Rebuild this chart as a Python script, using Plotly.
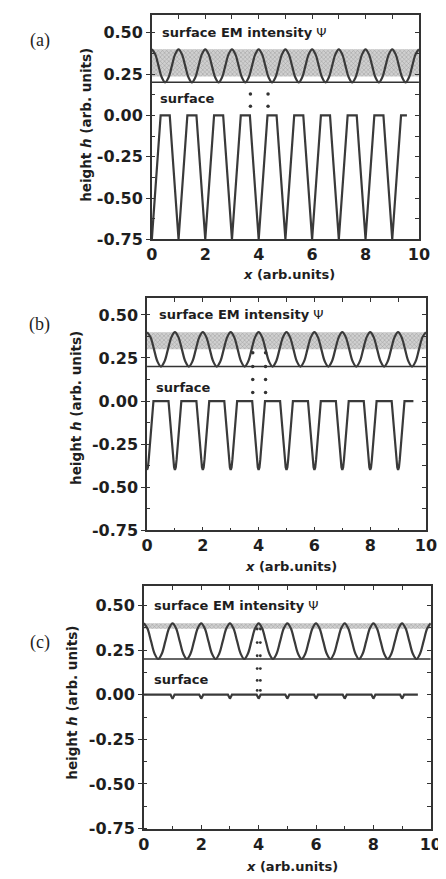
import numpy as np
import plotly.graph_objects as go

W, H = 446, 879

# ---------------- data ----------------
# sampling grid for the surface EM intensity curve
x_psi = np.round(np.arange(0, 10.0001, 0.125), 3)
psi = [
    0.400, 0.371, 0.300, 0.229, 0.200, 0.229, 0.300, 0.371,
    0.400, 0.371, 0.300, 0.229, 0.200, 0.229, 0.300, 0.371,
    0.400, 0.371, 0.300, 0.229, 0.200, 0.229, 0.300, 0.371,
    0.400, 0.371, 0.300, 0.229, 0.200, 0.229, 0.300, 0.371,
    0.400, 0.371, 0.300, 0.229, 0.200, 0.229, 0.300, 0.371,
    0.400, 0.371, 0.300, 0.229, 0.200, 0.229, 0.300, 0.371,
    0.400, 0.371, 0.300, 0.229, 0.200, 0.229, 0.300, 0.371,
    0.400, 0.371, 0.300, 0.229, 0.200, 0.229, 0.300, 0.371,
    0.400, 0.371, 0.300, 0.229, 0.200, 0.229, 0.300, 0.371,
    0.400, 0.371, 0.300, 0.229, 0.200, 0.229, 0.300, 0.371,
    0.400,
]
psi_floor = 0.20                 # horizontal reference line
band_top = 0.40                  # top of shaded band
band_low = [0.235, 0.30, 0.37]   # bottom of shaded band, panels a, b, c
x_span = [0, 10]

# surface profile (a)
surf_a_x = [
    0.00, 0.33, 0.67,
    1.00, 1.33, 1.67,
    2.00, 2.33, 2.67,
    3.00, 3.33, 3.67,
    4.00, 4.33, 4.67,
    5.00, 5.33, 5.67,
    6.00, 6.33, 6.67,
    7.00, 7.33, 7.67,
    8.00, 8.33, 8.67,
    9.00, 9.33, 9.55,
]
surf_a_h = [
    -0.75, 0.00, 0.00,
    -0.75, 0.00, 0.00,
    -0.75, 0.00, 0.00,
    -0.75, 0.00, 0.00,
    -0.75, 0.00, 0.00,
    -0.75, 0.00, 0.00,
    -0.75, 0.00, 0.00,
    -0.75, 0.00, 0.00,
    -0.75, 0.00, 0.00,
    -0.75, 0.00, 0.00,
]

# surface profile (b)
surf_b_x = [
    0.00, 0.03, 0.06, 0.10, 0.15, 0.20, 0.23,
    0.77, 0.80, 0.85, 0.90, 0.94, 0.97, 1.00, 1.03, 1.06, 1.10, 1.15, 1.20, 1.23,
    1.77, 1.80, 1.85, 1.90, 1.94, 1.97, 2.00, 2.03, 2.06, 2.10, 2.15, 2.20, 2.23,
    2.77, 2.80, 2.85, 2.90, 2.94, 2.97, 3.00, 3.03, 3.06, 3.10, 3.15, 3.20, 3.23,
    3.77, 3.80, 3.85, 3.90, 3.94, 3.97, 4.00, 4.03, 4.06, 4.10, 4.15, 4.20, 4.23,
    4.77, 4.80, 4.85, 4.90, 4.94, 4.97, 5.00, 5.03, 5.06, 5.10, 5.15, 5.20, 5.23,
    5.77, 5.80, 5.85, 5.90, 5.94, 5.97, 6.00, 6.03, 6.06, 6.10, 6.15, 6.20, 6.23,
    6.77, 6.80, 6.85, 6.90, 6.94, 6.97, 7.00, 7.03, 7.06, 7.10, 7.15, 7.20, 7.23,
    7.77, 7.80, 7.85, 7.90, 7.94, 7.97, 8.00, 8.03, 8.06, 8.10, 8.15, 8.20, 8.23,
    8.77, 8.80, 8.85, 8.90, 8.94, 8.97, 9.00, 9.03, 9.06, 9.10, 9.15, 9.20, 9.23,
    9.55,
]
surf_b_h = [
    -0.40, -0.385, -0.34, -0.26, -0.16, -0.06, 0.00,
    0.00, -0.06, -0.16, -0.26, -0.34, -0.385, -0.40, -0.385, -0.34, -0.26, -0.16, -0.06, 0.00,
    0.00, -0.06, -0.16, -0.26, -0.34, -0.385, -0.40, -0.385, -0.34, -0.26, -0.16, -0.06, 0.00,
    0.00, -0.06, -0.16, -0.26, -0.34, -0.385, -0.40, -0.385, -0.34, -0.26, -0.16, -0.06, 0.00,
    0.00, -0.06, -0.16, -0.26, -0.34, -0.385, -0.40, -0.385, -0.34, -0.26, -0.16, -0.06, 0.00,
    0.00, -0.06, -0.16, -0.26, -0.34, -0.385, -0.40, -0.385, -0.34, -0.26, -0.16, -0.06, 0.00,
    0.00, -0.06, -0.16, -0.26, -0.34, -0.385, -0.40, -0.385, -0.34, -0.26, -0.16, -0.06, 0.00,
    0.00, -0.06, -0.16, -0.26, -0.34, -0.385, -0.40, -0.385, -0.34, -0.26, -0.16, -0.06, 0.00,
    0.00, -0.06, -0.16, -0.26, -0.34, -0.385, -0.40, -0.385, -0.34, -0.26, -0.16, -0.06, 0.00,
    0.00, -0.06, -0.16, -0.26, -0.34, -0.385, -0.40, -0.385, -0.34, -0.26, -0.16, -0.06, 0.00,
    0.00,
]

# surface profile (c)
surf_c_x = [
    0.00,
    0.93, 0.965, 1.00, 1.035, 1.07,
    1.93, 1.965, 2.00, 2.035, 2.07,
    2.93, 2.965, 3.00, 3.035, 3.07,
    3.93, 3.965, 4.00, 4.035, 4.07,
    4.93, 4.965, 5.00, 5.035, 5.07,
    5.93, 5.965, 6.00, 6.035, 6.07,
    6.93, 6.965, 7.00, 7.035, 7.07,
    7.93, 7.965, 8.00, 8.035, 8.07,
    8.93, 8.965, 9.00, 9.035, 9.07,
    9.55,
]
surf_c_h = [
    0.00,
    0.00, -0.012, -0.022, -0.012, 0.00,
    0.00, -0.012, -0.022, -0.012, 0.00,
    0.00, -0.012, -0.022, -0.012, 0.00,
    0.00, -0.012, -0.022, -0.012, 0.00,
    0.00, -0.012, -0.022, -0.012, 0.00,
    0.00, -0.012, -0.022, -0.012, 0.00,
    0.00, -0.012, -0.022, -0.012, 0.00,
    0.00, -0.012, -0.022, -0.012, 0.00,
    0.00, -0.012, -0.022, -0.012, 0.00,
    0.00,
]

# dotted guide marks (pairs of columns)
dots_a_x = [3.69, 3.69, 4.35, 4.35]
dots_a_y = [0.13, 0.055, 0.13, 0.055]
dots_b_x = [3.79, 3.79, 3.79, 3.79, 4.25, 4.25, 4.25, 4.25]
dots_b_y = [0.28, 0.20, 0.125, 0.05, 0.28, 0.20, 0.125, 0.05]
dots_c_x = [3.95] * 6 + [4.06] * 6
dots_c_y = [0.368, 0.292, 0.218, 0.146, 0.08, 0.024] * 2

y_tickvals = [-0.75, -0.50, -0.25, 0.00, 0.25, 0.50]
y_ticktext = ["-0.75", "-0.50", "-0.25", "0.00", "0.25", "0.50"]
x_tickvals = [0, 2, 4, 6, 8, 10]
x_ticktext = ["0", "2", "4", "6", "8", "10"]

panel_labels = ["(a)", "(b)", "(c)"]
txt_intensity = "<b>surface EM intensity</b> Ψ"
txt_surface = "<b>surface</b>"
y_title = "<b>height <i>h</i> (arb. units)</b>"
x_title = "<b><i>x</i> (arb.units)</b>"

surf_x = [surf_a_x, surf_b_x, surf_c_x]
surf_h = [surf_a_h, surf_b_h, surf_c_h]
dots_x = [dots_a_x, dots_b_x, dots_c_x]
dots_y = [dots_a_y, dots_b_y, dots_c_y]

# ---------------- layout geometry (pixels) ----------------
panels = [
    dict(xpx=(143.3, 421.0), ypx=(6.7, 234.0), yr=(-0.75, 0.61),
         lab=(27, 33), ytit=(74, 118), xtit=(286, 270),
         tint=(0.30, 0.5), tsurf=(0.24, 0.10), dsize=3.5),
    dict(xpx=(138.3, 428.3), ypx=(293.0, 528.3), yr=(-0.75, 0.60),
         lab=(27, 320), ytit=(65, 405), xtit=(288, 565),
         tint=(0.34, 0.5), tsurf=(0.25, 0.08), dsize=3.5),
    dict(xpx=(135.0, 433.3), ypx=(585.0, 830.0), yr=(-0.75, 0.607),
         lab=(27, 642), ytit=(60, 703), xtit=(289, 868),
         tint=(0.28, 0.5), tsurf=(0.28, 0.085), dsize=2.8),
]

LINE = "#3a3a3a"
FRAME = "#333333"
TXT = "#1e1e1e"
tickfont = dict(family="DejaVu Sans", size=16, color=TXT, weight="bold")

fig = go.Figure()
layout = {}
annotations = []

for i, p in enumerate(panels):
    n = i + 1
    xs = "x" if n == 1 else f"x{n}"
    ys = "y" if n == 1 else f"y{n}"
    xo, yo = f"x{n+3}", f"y{n+3}"
    xdom = [p["xpx"][0] / W, p["xpx"][1] / W]
    ydom = [1 - p["ypx"][1] / H, 1 - p["ypx"][0] / H]

    # shaded band
    fig.add_trace(go.Scatter(
        x=[x_span[0], x_span[1], x_span[1], x_span[0], x_span[0]],
        y=[band_low[i], band_low[i], band_top, band_top, band_low[i]],
        mode="lines", fill="toself", line=dict(width=0),
        fillcolor="#c8c8c8",
        fillpattern=dict(shape="x", size=3, solidity=0.3,
                         fgcolor="#9c9c9c", bgcolor="#d0d0d0", fillmode="replace"),
        xaxis=xs, yaxis=ys, showlegend=False, hoverinfo="skip"))
    # reference line at psi floor
    fig.add_trace(go.Scatter(
        x=x_span, y=[psi_floor, psi_floor], mode="lines",
        line=dict(color=FRAME, width=1.5),
        xaxis=xs, yaxis=ys, showlegend=False, hoverinfo="skip"))
    # EM intensity
    fig.add_trace(go.Scatter(
        x=x_psi, y=psi, mode="lines",
        line=dict(color=LINE, width=2.2, shape="spline", smoothing=1.0),
        xaxis=xs, yaxis=ys, showlegend=False))
    # surface
    fig.add_trace(go.Scatter(
        x=surf_x[i], y=surf_h[i], mode="lines",
        line=dict(color=LINE, width=2.2),
        xaxis=xs, yaxis=ys, showlegend=False))
    # dotted guides
    fig.add_trace(go.Scatter(
        x=dots_x[i], y=dots_y[i], mode="markers",
        marker=dict(color=FRAME, size=p["dsize"]),
        xaxis=xs, yaxis=ys, showlegend=False, hoverinfo="skip"))
    # invisible trace for mirror-tick overlay axes
    fig.add_trace(go.Scatter(
        x=[None], y=[None], mode="lines", xaxis=xo, yaxis=yo,
        showlegend=False, hoverinfo="skip"))

    xk = "xaxis" if n == 1 else f"xaxis{n}"
    yk = "yaxis" if n == 1 else f"yaxis{n}"
    layout[xk] = dict(
        domain=xdom, anchor=ys, range=[0, 10], showgrid=False, zeroline=False,
        showline=True, linecolor=FRAME, linewidth=1.5, mirror=True,
        tickvals=x_tickvals, ticktext=x_ticktext,
        ticks="inside", ticklen=4, tickwidth=1.3, tickcolor=FRAME,
        minor=dict(dtick=1, tick0=0, ticks="inside", ticklen=3, tickcolor=FRAME),
        tickfont=tickfont, fixedrange=True)
    layout[yk] = dict(
        domain=ydom, anchor=xs, range=list(p["yr"]), showgrid=False, zeroline=False,
        showline=True, linecolor=FRAME, linewidth=1.5, mirror=True,
        tickvals=y_tickvals, ticktext=y_ticktext,
        ticks="outside", ticklen=4, tickwidth=1.3, tickcolor=FRAME,
        minor=dict(dtick=0.125, tick0=-0.75, ticks="inside", ticklen=3, tickcolor=FRAME),
        tickfont=tickfont, fixedrange=True)
    layout[f"xaxis{n+3}"] = dict(
        overlaying=xs, anchor=ys, side="top", range=[0, 10], showgrid=False,
        zeroline=False, showline=False, showticklabels=False,
        dtick=1, tick0=0, ticks="inside", ticklen=4, tickwidth=1.3, tickcolor=FRAME,
        fixedrange=True)
    layout[f"yaxis{n+3}"] = dict(
        overlaying=ys, anchor=xs, side="right", range=list(p["yr"]), showgrid=False,
        zeroline=False, showline=False, showticklabels=False,
        dtick=0.125, tick0=-0.75, ticks="inside", ticklen=4, tickwidth=1.3,
        tickcolor=FRAME, fixedrange=True)

    # texts
    annotations.append(dict(
        text=txt_intensity, x=p["tint"][0], y=p["tint"][1], xref=xs, yref=ys,
        xanchor="left", yanchor="middle", showarrow=False,
        font=dict(family="DejaVu Sans", size=13, color=TXT)))
    annotations.append(dict(
        text=txt_surface, x=p["tsurf"][0], y=p["tsurf"][1], xref=xs, yref=ys,
        xanchor="left", yanchor="middle", showarrow=False,
        font=dict(family="DejaVu Sans", size=13, color=TXT)))
    annotations.append(dict(
        text=panel_labels[i], x=p["lab"][0] / W, y=1 - p["lab"][1] / H,
        xref="paper", yref="paper", xanchor="center", yanchor="middle",
        showarrow=False, font=dict(family="Liberation Serif", size=18, color=TXT)))
    annotations.append(dict(
        text=y_title, x=p["ytit"][0] / W, y=1 - p["ytit"][1] / H,
        xref="paper", yref="paper", xanchor="center", yanchor="middle",
        textangle=-90, showarrow=False,
        font=dict(family="DejaVu Sans", size=13.5, color=TXT)))
    annotations.append(dict(
        text=x_title, x=p["xtit"][0] / W, y=1 - p["xtit"][1] / H,
        xref="paper", yref="paper", xanchor="center", yanchor="middle",
        showarrow=False, font=dict(family="DejaVu Sans", size=13, color=TXT)))

fig.update_layout(
    width=W, height=H, margin=dict(l=0, r=0, t=0, b=0),
    paper_bgcolor="white", plot_bgcolor="white",
    annotations=annotations, **layout)

fig.write_html("out.html")
